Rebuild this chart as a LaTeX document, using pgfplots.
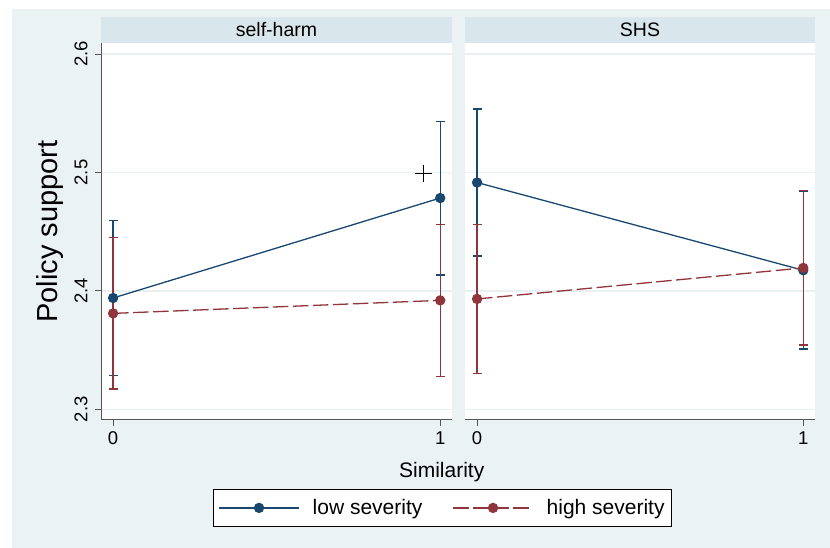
\documentclass[border=0pt]{standalone}
\usepackage{pgfplots}
\pgfplotsset{compat=1.18}
\usepackage{fontspec}
\setmainfont{Liberation Sans}

\definecolor{sNavy}{RGB}{26,71,111}
\definecolor{sMaroon}{RGB}{144,53,59}
\definecolor{sBg}{RGB}{234,242,243}
\definecolor{sStrip}{RGB}{217,230,235}
\definecolor{sGrid}{RGB}{232,240,242}
\definecolor{sAxis}{RGB}{85,85,85}

\pgfplotsset{
  panel/.style={
    scale only axis,
    height=377pt,
    xmin=-0.037, xmax=1.036,
    ymin=2.291, ymax=2.6093,
    xtick={0,1}, ytick={2.3,2.4,2.5,2.6},
    axis lines*=left,
    axis line style={sAxis, line width=1pt},
    tick style={sAxis, line width=1pt},
    tick align=outside,
    major tick length=6pt,
    axis background/.style={fill=white},
    ymajorgrids,
    major grid style={sGrid, line width=1.5pt},
    /pgf/number format/assume math mode=true,
    ticklabel style={font=\fontsize{18.5}{20}\selectfont},
    xticklabel shift=2pt,
    yticklabel shift=4pt,
    yticklabel style={rotate=90, anchor=south,
      /pgf/number format/.cd, fixed, fixed zerofill, precision=1},
    clip=false,
  },
  % confidence intervals: whiskers with caps, no point marker
  ci/.style={
    forget plot, only marks, mark=*, mark size=0pt,
    mark options={draw=none, fill=none},
    color=#1,
    error bars/.cd, y dir=both, y explicit,
    error bar style={color=#1, line width=1.3pt, solid},
    error mark=|,
    error mark options={color=#1, draw=#1, line width=1.3pt, mark size=4.5pt, solid},
  },
  low/.style={sNavy, line width=1.3pt, mark=*, mark size=4.5pt,
    mark options={solid, fill=sNavy}},
  high/.style={sMaroon, line width=1.3pt, dash pattern=on 15.5pt off 4.5pt,
    mark=*, mark size=4.5pt, mark options={solid, fill=sMaroon}},
}

\begin{document}
\begin{tikzpicture}[x=1pt, y=1pt]
  % page and graph region
  \fill[white] (0,0) rectangle (830,548);
  \fill[sBg] (12,0) rectangle (830,539);
  % panel headers
  \fill[sStrip] (101,505) rectangle (452,531);
  \fill[sStrip] (465,505) rectangle (815,531);
  \node[font=\fontsize{19.5}{22}\selectfont] at (276.5,518) {self-harm};
  \node[font=\fontsize{19.5}{22}\selectfont] at (640,518) {SHS};

  % self-harm panel
  \begin{axis}[panel, at={(101pt,128pt)}, anchor=south west, width=351pt,
      ylabel={Policy support},
      ylabel style={at={(axis description cs:-0.146,0.5)}, anchor=center,
        font=\fontsize{29}{32}\selectfont},
      legend columns=2,
      legend style={at={(axis description cs:0.9729,-0.2332)}, anchor=center,
        draw=black, line width=0.8pt, fill=white,
        font=\fontsize{21}{24}\selectfont,
        inner xsep=5pt, inner ysep=8.5pt,
        column sep=11pt,
        /tikz/every even column/.append style={column sep=28pt}},
      legend image code/.code={%
        \draw[mark repeat=2, mark phase=2, #1]
          plot coordinates {(0pt,0pt) (40pt,0pt) (80pt,0pt)};},
    ]
    \addplot[ci=sNavy] coordinates {(0,2.3940) +- (0,0.0657) (1,2.4784) +- (0,0.0649)};
    \addplot[ci=sMaroon] coordinates {(0,2.3810) +- (0,0.0639) (1,2.3920) +- (0,0.0640)};
    \addplot[low] coordinates {(0,2.3940) (1,2.4784)};
    \addlegendentry{low severity}
    \addplot[high] coordinates {(0,2.3810) (1,2.3920)};
    \addlegendentry{high severity}
    \addplot[forget plot, only marks, black, mark=+, mark size=8.5pt, line width=1.2pt]
      coordinates {(0.948,2.499)};
  \end{axis}

  % SHS panel
  \begin{axis}[panel, at={(465pt,128pt)}, anchor=south west, width=350pt,
      y axis line style={draw=none},
      ytick style={draw=none},
      yticklabels={},
    ]
    \addplot[ci=sNavy] coordinates {(0,2.4915) +- (0,0.0620) (1,2.4174) +- (0,0.0665)};
    \addplot[ci=sMaroon] coordinates {(0,2.3932) +- (0,0.0630) (1,2.4194) +- (0,0.0651)};
    \addplot[low] coordinates {(0,2.4915) (1,2.4174)};
    \addplot[high] coordinates {(0,2.3932) (1,2.4194)};
  \end{axis}

  \node[font=\fontsize{21}{24}\selectfont, anchor=base] at (441.7,70.7) {Similarity};
\end{tikzpicture}
\end{document}
